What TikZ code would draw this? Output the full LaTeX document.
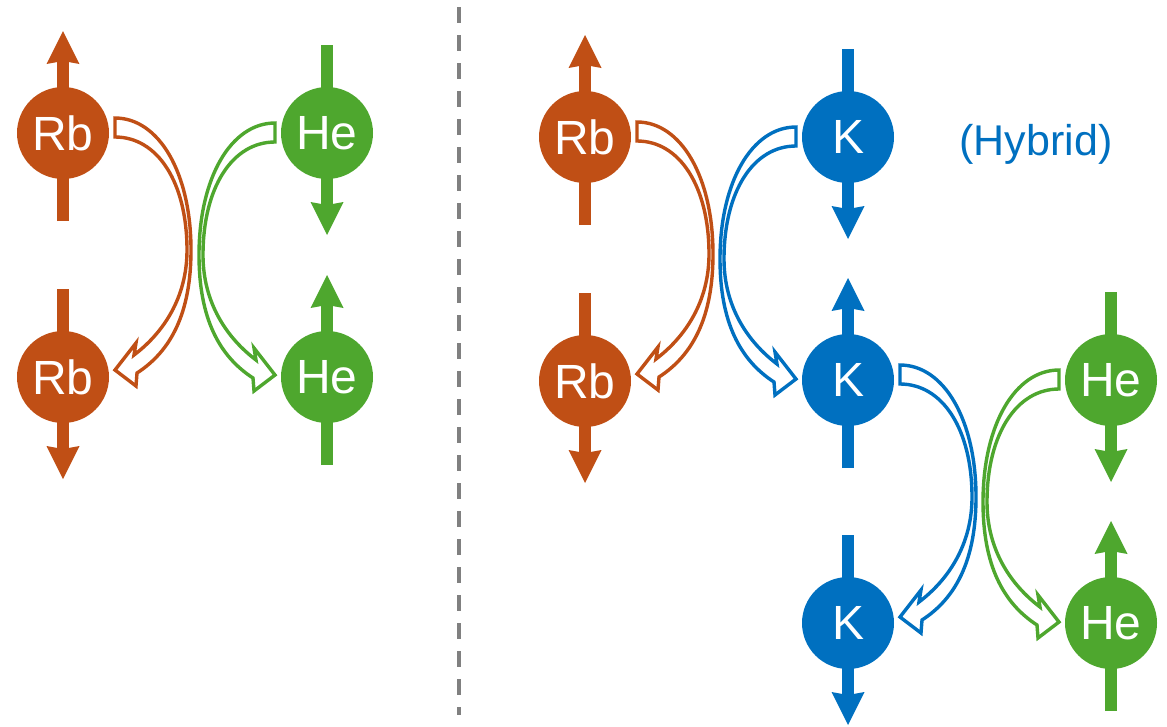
\documentclass[tikz,border=0pt]{standalone}
\usepackage{fontspec}
\setmainfont{Liberation Sans}
\usetikzlibrary{arrows.meta,calc}
\pgfdeclarelayer{background}
\pgfsetlayers{background,main}
\definecolor{rbc}{HTML}{C04F15}
\definecolor{hec}{HTML}{4EA72E}
\definecolor{kc}{HTML}{0070C0}
\definecolor{divc}{HTML}{808080}
\tikzset{
  atom/.style={circle, fill=#1, text=white, minimum size=92pt, inner sep=0pt,
    font=\fontsize{48}{50}\selectfont},
  spin/.style={draw=#1, line width=12pt,
    -{Stealth[length=33pt,width=33pt,inset=3pt,line width=0pt]}},
  divider/.style={draw=divc, line width=4pt, dash pattern=on 16pt off 12pt},
  flowarrow/.pic={
    \draw[line width=3.4pt, fill=white, line join=miter, miter limit=10]
      (52,-15) .. controls (96,-15) and (128,40) .. (128,117)
      .. controls (128,180) and (108,218) .. (74,240)
      -- (73,253) -- (52,237) -- (73,210) -- (71,222)
      .. controls (100,200) and (124,165) .. (124,117)
      .. controls (124,50) and (95,4) .. (52,4) -- cycle;
  }
}
\begin{document}
\begin{tikzpicture}[x=1pt,y=-1pt]
\useasboundingbox (0,0) rectangle (1167,726);
% divider
\coordinate (divtop) at (459,7);
\coordinate (divbot) at (459,715);
\draw[divider] (divtop) -- (divbot);
% atoms
\node[atom=rbc] (rbA) at (63,133) {Rb};
\node[atom=rbc] (rbB) at (63,377) {Rb};
\node[atom=hec] (heA) at (327,133) {He};
\node[atom=hec] (heB) at (327,377) {He};
\node[atom=rbc] (rbC) at (585,137) {Rb};
\node[atom=rbc] (rbD) at (585,381) {Rb};
\node[atom=kc] (kA) at (848,137) {K};
\node[atom=kc] (kB) at (848,380) {K};
\node[atom=kc] (kC) at (848,623) {K};
\node[atom=hec] (heC) at (1111,380) {He};
\node[atom=hec] (heD) at (1111,623) {He};
\node[text=kc, anchor=base, inner sep=0pt, font=\fontsize{43}{46}\selectfont] (hyb) at (1036,155) {(Hybrid)};
% spins, behind the atoms
\begin{pgfonlayer}{background}
\foreach \n/\c in {rbA/rbc, heB/hec, rbC/rbc, kB/kc, heD/hec}{
  \draw[spin=\c] ($(\n.center)+(0,88)$) -- ($(\n.center)+(0,-102)$);
}
\foreach \n/\c in {rbB/rbc, heA/hec, rbD/rbc, kA/kc, kC/kc, heC/hec}{
  \draw[spin=\c] ($(\n.center)+(0,-88)$) -- ($(\n.center)+(0,102)$);
}
\end{pgfonlayer}
% exchange arrows
\pic[color=rbc] at (rbA.center) {flowarrow};
\pic[color=hec, xscale=-1, yshift=-5pt] at (heA.center) {flowarrow};
\pic[color=rbc] at (rbC.center) {flowarrow};
\pic[color=kc, xscale=-1, yshift=-5pt] at (kA.center) {flowarrow};
\pic[color=kc] at (kB.center) {flowarrow};
\pic[color=hec, xscale=-1, yshift=-5pt] at (heC.center) {flowarrow};
\end{tikzpicture}
\end{document}
